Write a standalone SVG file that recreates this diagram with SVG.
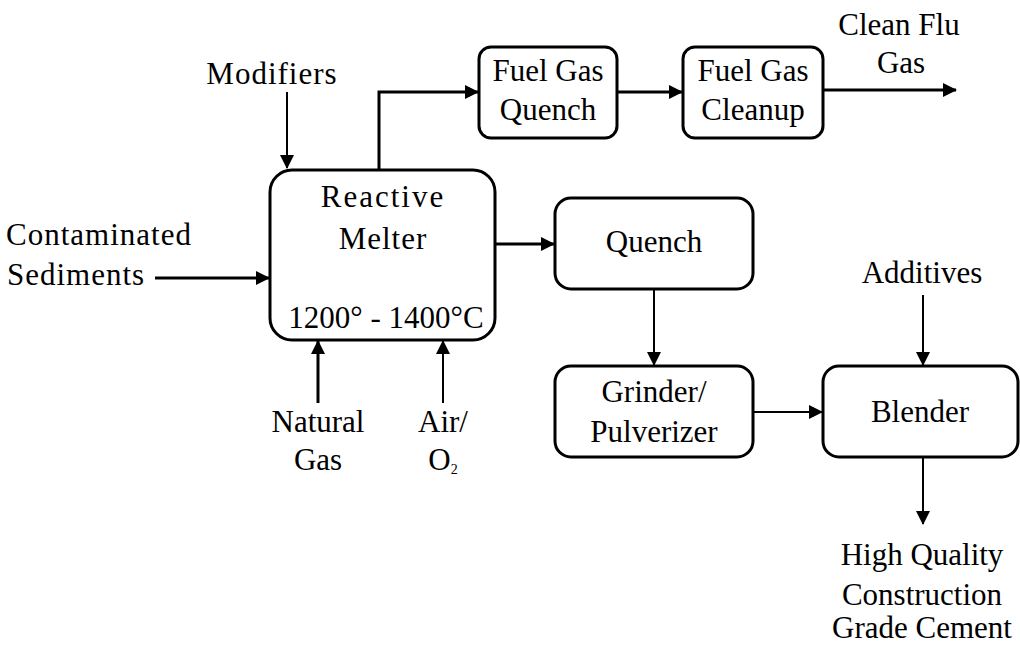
<svg xmlns="http://www.w3.org/2000/svg" width="1020" height="646" viewBox="0 0 1020 646">
<style>
text{font-size:31px;fill:#000;text-anchor:middle}
.box{fill:#fff;stroke:#000;stroke-width:3}
.th{stroke:#000;stroke-width:3;fill:none}
.tn{stroke:#000;stroke-width:2;fill:none}
</style>
<defs>
<marker id="ah" markerWidth="14" markerHeight="14" refX="13" refY="7" orient="auto" markerUnits="userSpaceOnUse">
<path d="M0,0 L14,7 L0,14 z" fill="#000"/>
</marker>
</defs>
<rect width="1020" height="646" fill="#fff"/>
<g id="connectors">
<path class="th" d="M379,170 V92 H478" marker-end="url(#ah)"/>
<path class="th" d="M617,92 H682" marker-end="url(#ah)"/>
<path class="th" d="M823,90 H956" marker-end="url(#ah)"/>
<path class="tn" d="M287,92 V168" marker-end="url(#ah)"/>
<path class="th" d="M155,278 H269" marker-end="url(#ah)"/>
<path class="th" d="M495,244 H554" marker-end="url(#ah)"/>
<path class="th" d="M318,403 V341" marker-end="url(#ah)"/>
<path class="tn" d="M443,403 V341" marker-end="url(#ah)"/>
<path class="tn" d="M654,289 V365" marker-end="url(#ah)"/>
<path class="tn" d="M753,412 H822" marker-end="url(#ah)"/>
<path class="tn" d="M923,295 V365" marker-end="url(#ah)"/>
<path class="tn" d="M923,457 V524" marker-end="url(#ah)"/>
</g>
<g font-family="Liberation Serif, Tinos, Noto Serif, DejaVu Serif, FreeSerif, Times New Roman, Times, serif">
<g id="melter">
<rect class="box" x="270" y="170" width="225" height="170" rx="22"/>
<text x="383" y="207" letter-spacing="2">Reactive</text>
<text x="383" y="249" letter-spacing="1">Melter</text>
<text x="386" y="328">1200° - 1400°C</text>
</g>
<g id="fuel-gas-quench">
<rect class="box" x="479" y="47" width="138" height="91" rx="12"/>
<text x="548" y="81">Fuel Gas</text>
<text x="548" y="120">Quench</text>
</g>
<g id="fuel-gas-cleanup">
<rect class="box" x="683" y="47" width="140" height="91" rx="12"/>
<text x="753" y="81">Fuel Gas</text>
<text x="753" y="120">Cleanup</text>
</g>
<g id="quench">
<rect class="box" x="555" y="198" width="198" height="91" rx="16"/>
<text x="654" y="252">Quench</text>
</g>
<g id="grinder">
<rect class="box" x="555" y="366" width="198" height="91" rx="16"/>
<text x="654" y="402">Grinder/</text>
<text x="654" y="442">Pulverizer</text>
</g>
<g id="blender">
<rect class="box" x="823" y="366" width="195" height="91" rx="16"/>
<text x="920" y="422">Blender</text>
</g>
<g id="labels">
<text x="272" y="84" letter-spacing="1">Modifiers</text>
<text x="899" y="35">Clean Flu</text>
<text x="901" y="73">Gas</text>
<text x="99" y="245" letter-spacing="1">Contaminated</text>
<text x="76" y="285" letter-spacing="1">Sediments</text>
<text x="318" y="432">Natural</text>
<text x="318" y="470">Gas</text>
<text x="443" y="432">Air/</text>
<text x="443" y="470">O<tspan font-size="14" dy="4">2</tspan></text>
<text x="922" y="283">Additives</text>
<text x="922" y="565">High Quality</text>
<text x="922" y="605">Construction</text>
<text x="922" y="638">Grade Cement</text>
</g>
</g>
</svg>
